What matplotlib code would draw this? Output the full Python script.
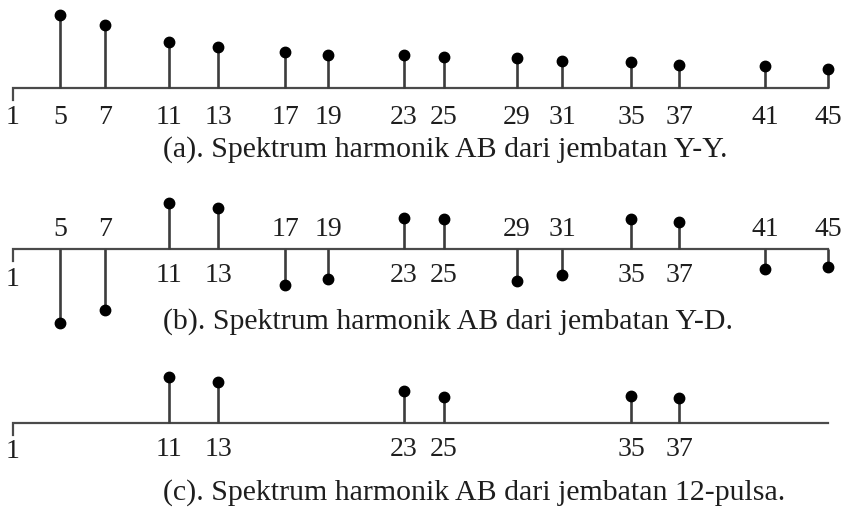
import numpy as np
import matplotlib
matplotlib.use("Agg")
import matplotlib.pyplot as plt

# ── data (amplitudes in relative units) ──
HARMONICS = [5, 7, 11, 13, 17, 19, 23, 25, 29, 31, 35, 37, 41, 45]
AMP_YY = [73, 63, 46, 41, 36, 33, 33, 31, 30, 27, 26, 23, 22, 19]
AMP_YD = [-74, -61, 46, 41, -36, -30, 31, 30, -32, -26, 30, 27, -20, -18]
HARM_12P = [11, 13, 23, 25, 35, 37]
AMP_12P = [46, 41, 32, 26, 27, 25]
H_FIRST, H_LAST = 1, 45

CAPTIONS = [
    "(a). Spektrum harmonik AB dari jembatan Y-Y.",
    "(b). Spektrum harmonik AB dari jembatan Y-D.",
    "(c). Spektrum harmonik AB dari jembatan 12-pulsa.",
]

# ── layout: the schematic harmonic axis is not linear, map order -> pixel ──
H_ANCHOR = [0, 1, 5, 7, 11, 13, 17, 19, 23, 25, 29, 31, 35, 37, 41, 45, 47]
PX_ANCHOR = [-5, 13, 60, 105, 169, 218, 285, 328, 404, 444, 517, 562,
             631, 679, 765, 828, 860]

W, H = 846, 513
STEM, BASE, INK = "#3c3c3c", "#4a4a4a", "#1e1e1e"
FONT = "Liberation Serif"
NUM_FS, CAP_FS = 20, 21.5
CORNER = 12

plt.rcParams["font.family"] = [FONT, "DejaVu Serif"]


def fwd(h):
    return np.interp(h, H_ANCHOR, PX_ANCHOR)


def inv(p):
    return np.interp(p, PX_ANCHOR, H_ANCHOR)


fig = plt.figure(figsize=(W / 100, H / 100), dpi=100)
fig.patch.set_facecolor("white")


def panel(top_px, bottom_px, base_px):
    ax = fig.add_axes([0, 1 - bottom_px / H, 1, (bottom_px - top_px) / H])
    ax.set_xscale("function", functions=(fwd, inv))
    ax.set_xlim(inv(0), inv(W))
    ax.set_ylim(base_px - bottom_px, base_px - top_px)
    ax.axis("off")
    ax.plot([H_FIRST, H_FIRST, H_LAST], [-CORNER, 0, 0], color=BASE,
            lw=1.6, solid_joinstyle="miter", clip_on=False)
    return ax


def stems(ax, h, a):
    ax.vlines(h, 0, a, color=STEM, lw=1.9, clip_on=False)
    ax.plot(h, a, "o", ms=7.5, color="black", clip_on=False)


def num(ax, h, y):
    ax.text(h, y, str(h), ha="center", va="center", fontsize=NUM_FS,
            color=INK)


# (a) Y-Y
ax = panel(0, 170, 88)
stems(ax, HARMONICS, AMP_YY)
num(ax, H_FIRST, -29)
for h in HARMONICS:
    num(ax, h, -29)

# (b) Y-D
ax = panel(175, 340, 249)
stems(ax, HARMONICS, AMP_YD)
num(ax, H_FIRST, -31)
for h, a in zip(HARMONICS, AMP_YD):
    num(ax, h, 19 if a < 0 else -27)

# (c) 12-pulse
ax = panel(345, 513, 423)
stems(ax, HARM_12P, AMP_12P)
num(ax, H_FIRST, -29)
for h in HARM_12P:
    num(ax, h, -27)

for cap, y in zip(CAPTIONS, [150, 322, 493]):
    fig.text(163 / W, 1 - y / H, cap, ha="left", va="center",
             fontsize=CAP_FS, color=INK)

fig.savefig("out.png", dpi=100, facecolor="white")
